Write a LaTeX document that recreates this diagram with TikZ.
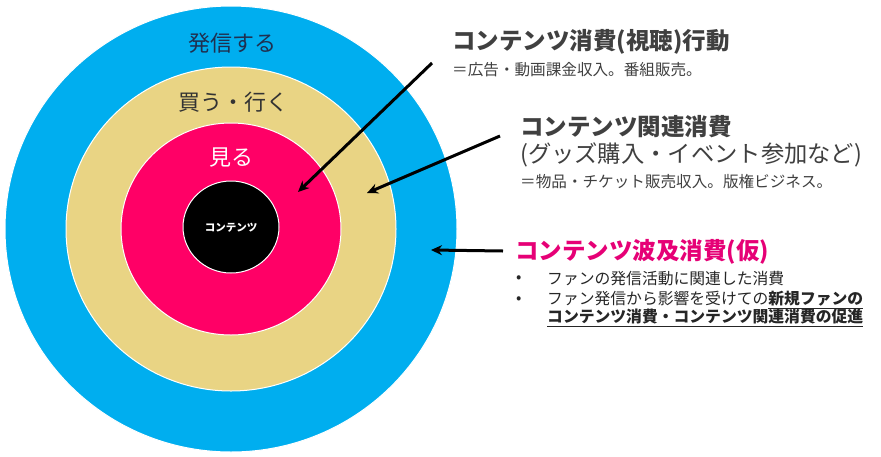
\documentclass[tikz,border=0pt]{standalone}
\usepackage{fontspec}
\usetikzlibrary{arrows.meta}
\newfontfamily\jp{Noto Sans CJK JP}
\definecolor{ringblue}{RGB}{0,174,239}
\definecolor{ringtan}{RGB}{233,212,132}
\definecolor{ringpink}{RGB}{255,0,102}
\definecolor{txtgray}{RGB}{64,64,64}
\definecolor{txtpink}{RGB}{230,0,118}
\definecolor{txtnavy}{RGB}{31,48,80}
\tikzset{
  ring/.style={draw=white,line width=1pt},
  ringlabel/.style={font=\jp\fontsize{22}{22}\selectfont,inner sep=0pt},
  title/.style={anchor=west,inner sep=0pt,font=\jp\bfseries\fontsize{23.5}{23.5}\selectfont,text=txtgray},
  subline/.style={anchor=west,inner sep=0pt,font=\jp\fontsize{15.6}{15.6}\selectfont,text=txtgray},
  bigline/.style={anchor=west,inner sep=0pt,font=\jp\fontsize{23.3}{23.3}\selectfont,text=txtgray},
  bullettext/.style={anchor=west,inner sep=0pt,font=\jp\fontsize{15.8}{15.8}\selectfont,text=black!85},
  pointer/.style={-{Stealth[length=11pt,width=10pt]},line width=3pt,black},
}
\begin{document}
\begin{tikzpicture}[x=1pt,y=-1pt]
\useasboundingbox (0,0) rectangle (881,456);
\fill[white] (0,0) rectangle (881,456);
% rings
\draw[ring,fill=ringblue] (231,229) ellipse [x radius=226,y radius=223];
\draw[ring,fill=ringtan] (231,229) ellipse [x radius=165,y radius=162];
\draw[ring,fill=ringpink] (231,229) ellipse [x radius=110,y radius=106];
\draw[ring,fill=black] (231,227) ellipse [x radius=48,y radius=46];
% ring labels
\node[ringlabel,text=txtnavy] (hasshin) at (232,43) {発信する};
\node[ringlabel,text=black!80] (kau) at (233,102) {買う・行く};
\node[ringlabel,text=white] (miru) at (231,158) {見る};
\node[inner sep=0pt,text=white,font=\jp\bfseries\fontsize{10.5}{10.5}\selectfont] (core) at (231,228) {コンテンツ};
% targets
\coordinate (tPink) at (298,192);
\coordinate (tTan) at (367,193);
\coordinate (tBlue) at (431,250);
% right texts
\node[title] (t1) at (452,42) {コンテンツ消費(視聴)行動};
\node[subline] (s1) at (452,70) {＝広告・動画課金収入。番組販売。};
\node[title] (t2) at (520,127) {コンテンツ関連消費};
\node[bigline] (l2) at (520,155) {(グッズ購入・イベント参加など)};
\node[subline] (s2) at (520,182) {＝物品・チケット販売収入。版権ビジネス。};
\node[title,text=txtpink] (t3) at (515,252) {コンテンツ波及消費(仮)};
\node[bullettext] (b1d) at (516,279) {•};
\node[bullettext] (b1) at (547,279) {ファンの発信活動に関連した消費};
\node[bullettext] (b2d) at (516,300) {•};
\node[bullettext] (b2) at (547,300) {ファン発信から影響を受けての\textbf{\underline{新規ファンの}}};
\node[bullettext] (b3) at (547,318) {\textbf{\underline{コンテンツ消費・コンテンツ関連消費の促進}}};
% arrows
\coordinate (a1) at (432,63);
\coordinate (a2) at (500,136);
\coordinate (a3) at (503,251);
\draw[pointer] (a1) -- (tPink);
\draw[pointer] (a2) -- (tTan);
\draw[pointer] (a3) -- (tBlue);
\end{tikzpicture}
\end{document}
